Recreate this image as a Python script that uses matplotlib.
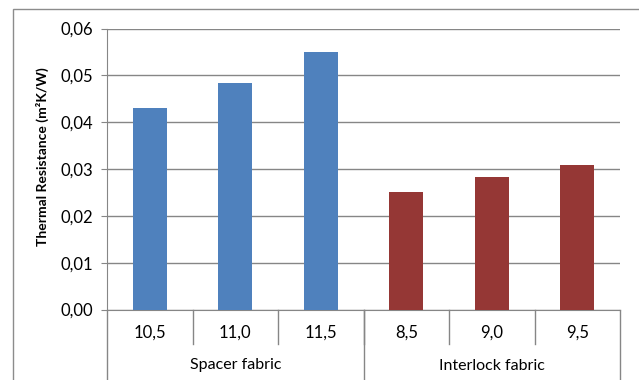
import matplotlib
matplotlib.use("Agg")
import matplotlib.pyplot as plt
from matplotlib.patches import Rectangle
from matplotlib.transforms import blended_transform_factory

plt.rcParams['font.family'] = ['Lato', 'DejaVu Sans']

categories = ["10,5", "11,0", "11,5", "8,5", "9,0", "9,5"]
groups = ["Spacer fabric", "Interlock fabric"]
group_sizes = [3, 3]
values = [0.0430, 0.0483, 0.0550, 0.0250, 0.0282, 0.0309]
bar_colors = ["#4F81BD"] * 3 + ["#953735"] * 3
yticks = [0.00, 0.01, 0.02, 0.03, 0.04, 0.05, 0.06]
ytick_labels = ["0,00", "0,01", "0,02", "0,03", "0,04", "0,05", "0,06"]

fig = plt.figure(figsize=(6.39, 3.8), dpi=100)
fig.patches.append(Rectangle((13 / 639, -0.1), 1.2, 1.1 - 9 / 380,
                             transform=fig.transFigure, fill=False,
                             edgecolor="#8c8c8c", linewidth=1.0))

ax = fig.add_axes([107 / 639, 1 - 309.5 / 380, 513 / 639, 281 / 380])
x = list(range(len(categories)))
ax.bar(x, values, width=0.4, color=bar_colors, zorder=3)
ax.set_xlim(-0.5, len(categories) - 0.5)
ax.set_ylim(0, 0.06)
ax.set_yticks(yticks)
ax.set_yticklabels(ytick_labels, fontsize=12)
ax.yaxis.grid(True, color="#868686", linewidth=1.0, zorder=0)
ax.set_xticks([])
for s in ["top", "right"]:
    ax.spines[s].set_visible(False)
ax.spines["left"].set_color("#868686")
ax.spines["bottom"].set_color("#868686")
ax.tick_params(axis="y", length=4, color="#868686", pad=6)
ax.set_ylabel("Thermal Resistance (m²K/W)", fontsize=10, fontweight="bold")
ax.yaxis.set_label_coords(-58 / 513, 0.543)

tr = blended_transform_factory(ax.transData, ax.transAxes)
px = 1 / 281
# category labels and separators
for i, lab in enumerate(categories):
    ax.text(i, -23 * px, lab, transform=tr, ha="center", va="center", fontsize=12)
for b in range(1, len(categories)):
    ax.plot([b - 0.5, b - 0.5], [0, -34 * px], transform=tr, color="#868686",
            linewidth=1.0, clip_on=False)
# group labels and separators
start = 0
bounds = [-0.5]
for g, n in zip(groups, group_sizes):
    center = start + (n - 1) / 2
    ax.text(center, -56 * px, g, transform=tr, ha="center", va="center", fontsize=11.5)
    start += n
    bounds.append(start - 0.5)
for b in bounds:
    ax.plot([b, b], [0, -80 * px], transform=tr, color="#868686",
            linewidth=1.0, clip_on=False)

fig.savefig("out.png", dpi=100)
